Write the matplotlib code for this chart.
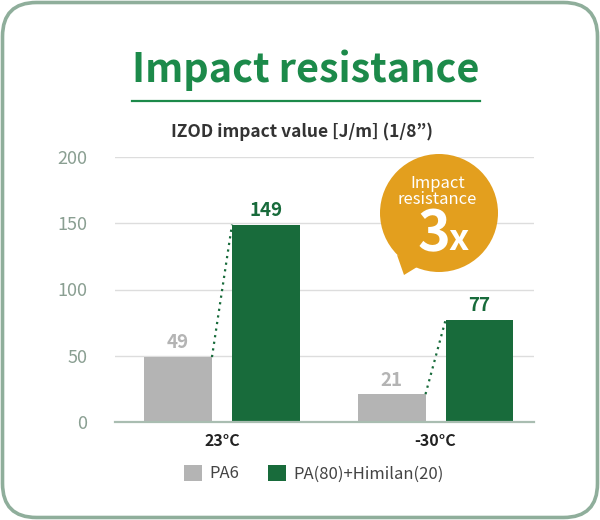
import numpy as np
import matplotlib.pyplot as plt
from matplotlib.patches import FancyBboxPatch, Circle, Polygon

plt.rcParams['font.family'] = ['Noto Sans CJK JP', 'DejaVu Sans']

categories = ["23°C", "-30°C"]
series_names = ["PA6", "PA(80)+Himilan(20)"]
pa6 = [49, 21]
himilan = [149, 77]
yticks = [0, 50, 100, 150, 200]

grey = "#b4b4b4"
green = "#186b3b"
title_green = "#1c8a4a"
orange = "#e39f1e"
tick_col = "#8a9f92"

fig = plt.figure(figsize=(6, 5.2), dpi=100)

# background / frame in pixel coords
bg = fig.add_axes([0, 0, 1, 1], zorder=0)
bg.set_xlim(0, 600)
bg.set_ylim(520, 0)
bg.axis("off")
bg.add_patch(FancyBboxPatch((2.5, 2.5), 595, 515,
                            boxstyle="round,pad=0,rounding_size=34",
                            fc="white", ec="#8fae9b", lw=2.6))
bg.text(306, 70, "Impact resistance", ha="center", va="center",
        fontsize=28.5, fontweight="bold", color=title_green)
bg.plot([132, 480], [101, 101], color=title_green, lw=1.6)
bg.text(302, 132, "IZOD impact value [J/m] (1/8\u201d)", ha="center", va="center",
        fontsize=12.5, fontweight="bold", color="#333333")

# chart
ax = fig.add_axes([115/600, 98/520, 419/600, 265/520], zorder=1)
ax.patch.set_visible(False)
x = np.arange(len(categories))
off = 0.206
w = 0.318
b1 = ax.bar(x - off, pa6, w, color=grey, zorder=2)
b2 = ax.bar(x + off, himilan, w, color=green, zorder=2)
for i in range(len(categories)):
    ax.text(x[i] - off, pa6[i] + 3.5, str(pa6[i]), ha="center", va="bottom",
            fontsize=13.5, fontweight="bold", color=grey)
    ax.text(x[i] + off, himilan[i] + 3.5, str(himilan[i]), ha="center", va="bottom",
            fontsize=13.5, fontweight="bold", color=green)
    ax.plot([x[i] - off + w/2, x[i] + off - w/2], [pa6[i], himilan[i]],
            color=green, lw=1.6, ls=(0, (1, 2)), zorder=3)

ax.set_xlim(-0.501, 1.461)
ax.set_ylim(0, 200)
ax.set_yticks(yticks)
ax.set_yticklabels([str(t) for t in yticks], fontsize=13, color=tick_col)
ax.set_xticks(x)
ax.set_xticklabels(categories, fontsize=11.5, fontweight="bold", color="#222222")
ax.tick_params(axis="y", length=0, pad=20)
ax.tick_params(axis="x", length=0, pad=8)
ax.grid(axis="y", color="#dddddd", lw=1, zorder=0)
for s in ["top", "right", "left"]:
    ax.spines[s].set_visible(False)
ax.spines["bottom"].set_color("#a9bdb1")
ax.spines["bottom"].set_linewidth(1.6)

# legend
ax.legend([b1, b2], series_names, loc="upper center", bbox_to_anchor=(0.475, -0.105),
          ncol=2, frameon=False, fontsize=12, handlelength=1.1, handleheight=1.1,
          handletextpad=0.45, columnspacing=1.7, labelcolor="#444444")

# callout bubble
fg = fig.add_axes([0, 0, 1, 1], zorder=3)
fg.set_xlim(0, 600)
fg.set_ylim(520, 0)
fg.axis("off")
fg.add_patch(Circle((439, 213), 59, fc=orange, ec="none"))
fg.add_patch(Polygon([(397, 255), (404, 275), (422, 264)], closed=True, fc=orange, ec="none"))
fg.text(438, 183, "Impact", ha="center", va="center", fontsize=12, color="white")
fg.text(437, 200, "resistance", ha="center", va="center", fontsize=12, color="white")
fg.text(434, 234, "3", ha="center", va="center", fontsize=40, fontweight="bold", color="white")
fg.text(459, 239, "x", ha="center", va="center", fontsize=26, fontweight="bold", color="white")

fig.savefig("out.png", dpi=100)
